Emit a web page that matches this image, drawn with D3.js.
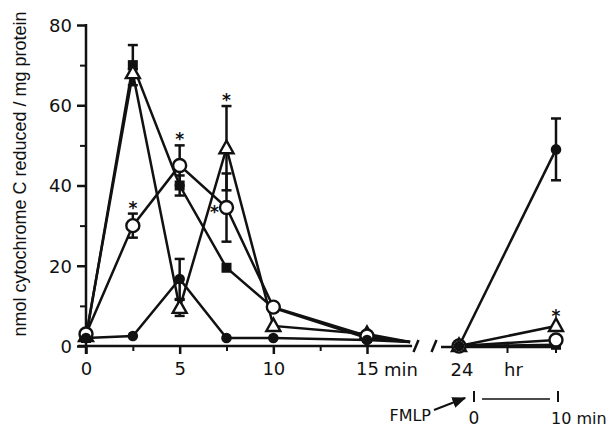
<!DOCTYPE html>
<html>
<head>
<meta charset="utf-8">
<script src="https://cdn.jsdelivr.net/npm/d3@7"></script>
<style>
	body { margin: 0; background: #fff; }
	svg text { font-family: "DejaVu Sans", "Liberation Sans", sans-serif; fill: #111; }
</style>
</head>
<body>
<div id="chart"></div>
<script>
// minutes after start, last entry is where the lines run into the axis break
var minutes = [0, 2.5, 5, 7.5, 10, 15, 17.3];
var squareVals = [2, 70, 40, 19.5, 9.5, 2, 1];
var openCircleVals = [3, 30, 45, 34.5, 9.7, 2.5, 1];
var triangleVals = [2.5, 68, 9.5, 49.3, 5, 3, 1];
var filledCircleVals = [2, 2.5, 16.7, 2, 2, 1.5, 1];

var squareErr = [0, 5, 2.5, 0, 0, 0, 0];
var openCircleErr = [0, 3, 5, 8.5, 0, 0, 0];
var triangleErr = [0, 1, 2, 10.5, 0, 0, 0];
var filledCircleErr = [0, 0, 5, 0, 0, 0, 0];

var openCircleStar = ['', 'top', 'top', 'left', '', '', ''];
var triangleStar = ['', '', '', 'top', '', '', ''];

// after 24 hr, minutes after FMLP
var fmlpMinutes = [0, 10];
var squareAfter = [0, 0.3];
var openCircleAfter = [0, 1.5];
var triangleAfter = [0, 5];
var filledCircleAfter = [0, 49];
var filledCircleAfterErr = [0, 7.7];
var triangleAfterStar = ['', 'top'];

var yTicks = [0, 20, 40, 60, 80];
var yMinor = [10, 30, 50, 70];
var xTicks = [0, 5, 10, 15];
var xMinor = [2.5, 7.5, 12.5];

var width = 608;
var height = 430;

var svg = d3.select('#chart')
			.append('svg')
			.attr('width', width)
			.attr('height', height);

var y = d3.scaleLinear().domain([0, 80]).range([346, 25]);
var x = d3.scaleLinear().domain([0, 15]).range([86, 367]);
var x2 = d3.scaleLinear().domain([0, 10]).range([459, 556]);

var ink = '#111';

//y axis
var y_axis = d3.axisLeft(y).tickValues(yTicks).tickSize(9).tickPadding(5);
var yg = svg.append('g')
	.attr('transform', 'translate(86,0)')
	.call(y_axis);
yg.select('.domain').remove();
yg.selectAll('line').attr('stroke', ink).attr('stroke-width', 2.5);
yg.selectAll('text').style('font-size', '18px').attr('dy', '0.36em');

var y_minor = d3.axisLeft(y).tickValues(yMinor).tickSize(6).tickFormat('');
var ym = svg.append('g')
	.attr('transform', 'translate(86,0)')
	.call(y_minor);
ym.select('.domain').remove();
ym.selectAll('line').attr('stroke', ink).attr('stroke-width', 2);

svg.append('line')
	.attr('x1', 86).attr('x2', 86)
	.attr('y1', y(80) - 1).attr('y2', 354)
	.attr('stroke', ink).attr('stroke-width', 2.5);

svg.append('text')
	.attr('transform', 'translate(26,' + 174 + ') rotate(-90)')
	.attr('text-anchor', 'middle')
	.style('font-family', '"Liberation Sans", Arial, sans-serif')
	.style('font-size', '18px')
	.text('nmol cytochrome C reduced / mg protein');

//x axis, first part
var x_axis = d3.axisBottom(x).tickValues(xTicks).tickSize(8).tickPadding(8);
var xg = svg.append('g')
	.attr('transform', 'translate(0,' + y(0) + ')')
	.call(x_axis);
xg.select('.domain').remove();
xg.selectAll('line').attr('stroke', ink).attr('stroke-width', 2.5);
xg.selectAll('text').style('font-size', '18px');

var x_minor = d3.axisBottom(x).tickValues(xMinor).tickSize(5).tickFormat('');
var xm = svg.append('g')
	.attr('transform', 'translate(0,' + y(0) + ')')
	.call(x_minor);
xm.select('.domain').remove();
xm.selectAll('line').attr('stroke', ink).attr('stroke-width', 2);

svg.append('line')
	.attr('x1', 78).attr('x2', x(17.3) + 2)
	.attr('y1', y(0)).attr('y2', y(0))
	.attr('stroke', ink).attr('stroke-width', 2.5);

svg.append('text')
	.attr('x', x(15) + 17).attr('y', y(0) + 30)
	.style('font-size', '18px')
	.text('min');

//axis break marks
[416, 434].forEach(function(bx){
	svg.append('line')
		.attr('x1', bx - 2.5).attr('x2', bx + 2.5)
		.attr('y1', y(0) + 6).attr('y2', y(0) - 6)
		.attr('stroke', ink).attr('stroke-width', 2.5);
});

//x axis, second part
svg.append('line')
	.attr('x1', 441).attr('x2', x2(10))
	.attr('y1', y(0) + 1).attr('y2', y(0) + 1)
	.attr('stroke', ink).attr('stroke-width', 2.5);
[x2(0), x2(5), x2(10)].forEach(function(tx){
	svg.append('line')
		.attr('x1', tx).attr('x2', tx)
		.attr('y1', y(0) + 1).attr('y2', y(0) + 7)
		.attr('stroke', ink).attr('stroke-width', 2);
});
svg.append('text')
	.attr('x', x2(0) + 3).attr('y', y(0) + 30)
	.attr('text-anchor', 'middle')
	.style('font-size', '18px')
	.text('24');
svg.append('text')
	.attr('x', x2(5) + 6).attr('y', y(0) + 30)
	.attr('text-anchor', 'middle')
	.style('font-size', '18px')
	.text('hr');

//FMLP annotation
svg.append('defs').append('marker')
	.attr('id', 'arrow')
	.attr('viewBox', '0 0 10 10')
	.attr('refX', 9).attr('refY', 5)
	.attr('markerWidth', 7).attr('markerHeight', 7)
	.attr('orient', 'auto')
	.append('path')
	.attr('d', 'M0,1 L10,5 L0,9 Z')
	.attr('fill', ink);

svg.append('text')
	.attr('x', 431).attr('y', 421)
	.attr('text-anchor', 'end')
	.style('font-size', '16px')
	.text('FMLP');
svg.append('line')
	.attr('x1', 434).attr('y1', 410)
	.attr('x2', 465).attr('y2', 398)
	.attr('stroke', ink).attr('stroke-width', 2)
	.attr('marker-end', 'url(#arrow)');
svg.append('line')
	.attr('x1', 474).attr('x2', 474).attr('y1', 391).attr('y2', 402)
	.attr('stroke', ink).attr('stroke-width', 2);
svg.append('line')
	.attr('x1', 558).attr('x2', 558).attr('y1', 391).attr('y2', 402)
	.attr('stroke', ink).attr('stroke-width', 2);
svg.append('line')
	.attr('x1', 482).attr('x2', 550).attr('y1', 399).attr('y2', 399)
	.attr('stroke', ink).attr('stroke-width', 1.5);
svg.append('text')
	.attr('x', 474).attr('y', 424)
	.attr('text-anchor', 'middle')
	.style('font-size', '17px')
	.text('0');
svg.append('text')
	.attr('x', 551).attr('y', 424)
	.style('font-size', '16px')
	.text('10 min');

//series
var series = [
	{ name: 'square', vals: squareVals, err: squareErr, after: squareAfter },
	{ name: 'triangle', vals: triangleVals, err: triangleErr, after: triangleAfter, star: triangleStar, afterStar: triangleAfterStar },
	{ name: 'openCircle', vals: openCircleVals, err: openCircleErr, after: openCircleAfter, star: openCircleStar },
	{ name: 'filledCircle', vals: filledCircleVals, err: filledCircleErr, after: filledCircleAfter, afterErr: filledCircleAfterErr }
];

var line1 = d3.line()
	.x(function(d){ return x(d[0]); })
	.y(function(d){ return y(d[1]); });
var line2 = d3.line()
	.x(function(d){ return x2(d[0]); })
	.y(function(d){ return y(d[1]); });

series.forEach(function(s){
	svg.append('path')
		.attr('d', line1(d3.zip(minutes, s.vals)))
		.attr('fill', 'none').attr('stroke', ink).attr('stroke-width', 2.5);
	svg.append('path')
		.attr('d', line2(d3.zip(fmlpMinutes, s.after)))
		.attr('fill', 'none').attr('stroke', ink).attr('stroke-width', 2.5);
});

//error bars
function errorBar(cx, v, e){
	if (!e) return;
	svg.append('line')
		.attr('x1', cx).attr('x2', cx)
		.attr('y1', y(v - e)).attr('y2', y(v + e))
		.attr('stroke', ink).attr('stroke-width', 2.5);
	[v - e, v + e].forEach(function(ev){
		svg.append('line')
			.attr('x1', cx - 5).attr('x2', cx + 5)
			.attr('y1', y(ev)).attr('y2', y(ev))
			.attr('stroke', ink).attr('stroke-width', 2.5);
	});
}

series.forEach(function(s){
	minutes.forEach(function(t, i){ errorBar(x(t), s.vals[i], s.err[i]); });
	if (s.afterErr) {
		fmlpMinutes.forEach(function(t, i){ errorBar(x2(t), s.after[i], s.afterErr[i]); });
	}
});

//markers
function marker(name, cx, cy){
	if (name == 'square') {
		svg.append('rect')
			.attr('x', cx - 5).attr('y', cy - 5)
			.attr('width', 10).attr('height', 10)
			.attr('fill', ink);
	} else if (name == 'triangle') {
		svg.append('path')
			.attr('d', 'M' + cx + ',' + (cy - 7.5) + 'L' + (cx + 7) + ',' + (cy + 5) + 'L' + (cx - 7) + ',' + (cy + 5) + 'Z')
			.attr('fill', '#fff').attr('stroke', ink).attr('stroke-width', 2.4);
	} else if (name == 'openCircle') {
		svg.append('circle')
			.attr('cx', cx).attr('cy', cy).attr('r', 6.5)
			.attr('fill', '#fff').attr('stroke', ink).attr('stroke-width', 2.4);
	} else {
		svg.append('circle')
			.attr('cx', cx).attr('cy', cy).attr('r', 5.3)
			.attr('fill', ink);
	}
}

function star(cx, v, e, pos){
	var sx = cx, sy = y(v + e) - (e ? 10 : 14);
	if (pos == 'left') { sx = cx - 12; sy = y(v); }
	svg.append('text')
		.attr('x', sx).attr('y', sy + 10)
		.attr('text-anchor', 'middle')
		.style('font-size', '17px')
		.style('font-weight', 'bold')
		.text('*');
}

series.forEach(function(s){
	minutes.forEach(function(t, i){
		if (t > 15) return;
		marker(s.name, x(t), y(s.vals[i]));
		if (s.star && s.star[i]) star(x(t), s.vals[i], s.err[i], s.star[i]);
	});
	fmlpMinutes.forEach(function(t, i){
		marker(s.name, x2(t), y(s.after[i]));
		if (s.afterStar && s.afterStar[i]) star(x2(t), s.after[i], 0, s.afterStar[i]);
	});
});
</script>
</body>
</html>
